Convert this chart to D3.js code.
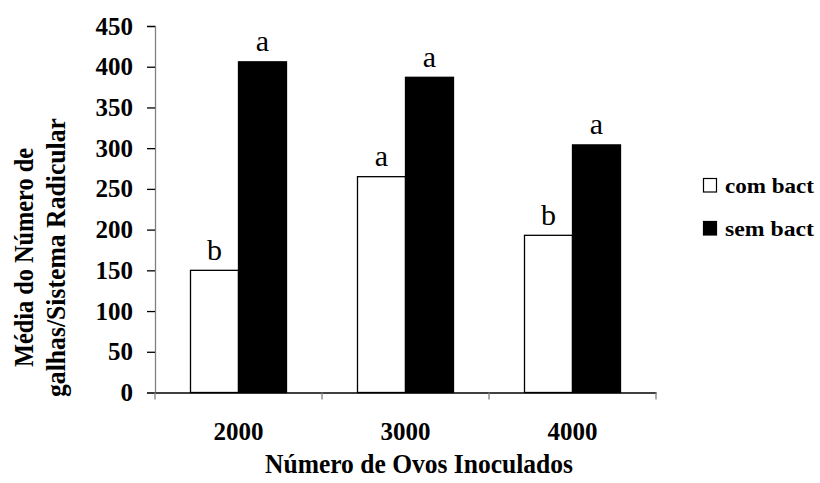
<!DOCTYPE html>
<html><head><meta charset="utf-8">
<script src="https://cdn.jsdelivr.net/npm/d3@7/dist/d3.min.js"></script>
<style>body{margin:0;background:#fff}svg{display:block}text{font-family:"Liberation Serif","Times New Roman",serif}</style>
</head><body>
<svg id="c" width="820" height="483"></svg>
<script>
const categories = ["2000", "3000", "4000"];
const seriesNames = ["com bact", "sem bact"];
const comBact = [150, 265, 193];
const semBact = [406, 387, 304];
const comLetters = ["b", "a", "b"];
const semLetters = ["a", "a", "a"];
const yTicks = [0, 50, 100, 150, 200, 250, 300, 350, 400, 450];

(function () {
const svg = d3.select("#c");
const mLeft = 155, mRight = 656, mTop = 26, mBottom = 392.5;
const x = d3.scaleBand().domain(categories).range([mLeft, mRight]);
const y = d3.scaleLinear().domain([0, 450]).range([mBottom, mTop]);
const barW = 48;
const fills = ["#fff", "#000"];
const series = [comBact, semBact];
const letters = [comLetters, semLetters];

// bars
series.forEach((vals, si) => {
  svg.append("g").selectAll("rect").data(categories).join("rect")
    .attr("x", d => x(d) + x.bandwidth() / 2 - barW + si * barW)
    .attr("y", (d, i) => y(vals[i]))
    .attr("width", barW)
    .attr("height", (d, i) => mBottom - y(vals[i]))
    .attr("fill", fills[si])
    .attr("stroke", "#000").attr("stroke-width", 1.3);
  svg.append("g").selectAll("text").data(categories).join("text")
    .attr("x", d => x(d) + x.bandwidth() / 2 - barW / 2 + si * barW)
    .attr("y", (d, i) => y(vals[i]) - 10.5)
    .attr("text-anchor", "middle")
    .attr("font-size", 30)
    .text((d, i) => letters[si][i]);
});

// y axis
const ya = svg.append("g").attr("transform", `translate(${mLeft},0)`)
  .call(d3.axisLeft(y).tickValues(yTicks).tickSize(8).tickPadding(14));
ya.select(".domain").attr("stroke", "#808080").attr("stroke-width", 1.3);
ya.selectAll(".tick line").attr("stroke", "#000").attr("stroke-width", 1.3);
ya.selectAll("text").attr("font-size", 25).attr("font-weight", "bold")
  .attr("font-family", "Liberation Serif").attr("fill", "#000");

// x axis
const xa = svg.append("g").attr("transform", `translate(0,${mBottom})`)
  .call(d3.axisBottom(x).tickSize(0).tickPadding(30));
xa.select(".domain").attr("stroke", "#000").attr("stroke-width", 1.3);
xa.selectAll("text").attr("font-size", 25).attr("font-weight", "bold")
  .attr("font-family", "Liberation Serif").attr("fill", "#000");
// boundary ticks
const bounds = categories.map(c => x(c)).concat([mRight]);
svg.append("g").selectAll("line").data(bounds).join("line")
  .attr("x1", d => d).attr("x2", d => d)
  .attr("y1", mBottom).attr("y2", mBottom + 7)
  .attr("stroke", "#808080").attr("stroke-width", 1.3);

// axis titles
svg.append("text").attr("x", 419).attr("y", 473).attr("text-anchor", "middle")
  .attr("font-size", 27).attr("font-weight", "bold")
  .attr("textLength", 308).attr("lengthAdjust", "spacingAndGlyphs")
  .text("Número de Ovos Inoculados");
const yt = svg.append("g").attr("transform", "translate(0,257.5) rotate(-90)");
yt.append("text").attr("x", 0).attr("y", 33).attr("text-anchor", "middle")
  .attr("font-size", 27).attr("font-weight", "bold")
  .attr("textLength", 219).attr("lengthAdjust", "spacingAndGlyphs")
  .text("Média do Número de");
yt.append("text").attr("x", 0).attr("y", 65).attr("text-anchor", "middle")
  .attr("font-size", 27).attr("font-weight", "bold")
  .attr("textLength", 279).attr("lengthAdjust", "spacingAndGlyphs")
  .text("galhas/Sistema Radicular");

// legend
const legendY = [178.5, 221.5];
seriesNames.forEach((n, i) => {
  svg.append("rect").attr("x", 703.5).attr("y", legendY[i]).attr("width", 13).attr("height", 13.5)
    .attr("fill", fills[i]).attr("stroke", "#000").attr("stroke-width", 1.2);
  svg.append("text").attr("x", 725).attr("y", legendY[i] + 14.5).attr("font-size", 22)
    .attr("font-weight", "bold")
    .attr("textLength", 89).attr("lengthAdjust", "spacingAndGlyphs")
    .text(n);
});
})();
</script>
</body></html>
